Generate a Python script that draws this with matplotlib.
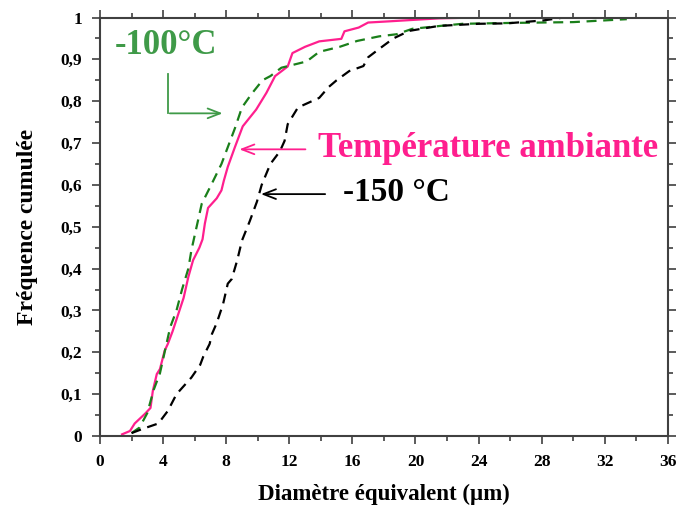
"""Cumulative distribution of equivalent diameter for three test temperatures."""

import matplotlib
matplotlib.use("Agg")
import matplotlib.pyplot as plt
from matplotlib.ticker import FuncFormatter, MultipleLocator

# --- data ------------------------------------------------------------------
amb_x = [1.4, 1.9, 2.2, 2.85, 3.2, 3.35, 3.6, 3.8, 4.1, 4.3, 4.6, 4.95, 5.3,
         5.6, 5.9, 6.3, 6.5, 6.65, 6.85, 7.4, 7.7, 7.85, 8.1, 8.55, 9.05,
         9.9, 10.55, 11.1, 11.9, 12.2, 13.0, 13.9, 15.3, 15.5, 16.4, 17.0,
         18.4, 21.5, 24.0]
amb_y = [0.004, 0.012, 0.03, 0.053, 0.067, 0.108, 0.148, 0.16, 0.204, 0.22,
         0.25, 0.29, 0.33, 0.38, 0.42, 0.45, 0.47, 0.508, 0.545, 0.568, 0.587,
         0.61, 0.643, 0.69, 0.74, 0.78, 0.82, 0.86, 0.883, 0.915, 0.93, 0.943,
         0.949, 0.967, 0.976, 0.988, 0.991, 0.998, 1.0]

m100_x = [2.0, 2.5, 3.0, 3.4, 3.8, 4.45, 4.85, 5.2, 5.6, 5.8, 6.45, 7.05, 7.7,
          8.1, 8.55, 9.0, 9.6, 10.3, 10.8, 11.5, 13.1, 13.9, 15.2, 16.3, 17.7,
          18.8, 19.8, 21.6, 23.0, 26.0, 30.0, 33.4]
m100_y = [0.007, 0.02, 0.055, 0.11, 0.15, 0.26, 0.3, 0.35, 0.4, 0.445, 0.555,
          0.6, 0.65, 0.69, 0.735, 0.785, 0.817, 0.85, 0.86, 0.88, 0.895, 0.918,
          0.93, 0.944, 0.955, 0.96, 0.973, 0.98, 0.985, 0.987, 0.989, 0.996]

m150_x = [2.0, 2.7, 3.7, 4.3, 4.85, 5.8, 6.35, 6.55, 6.95, 7.1, 7.4, 7.8, 8.1,
          8.35, 8.7, 9.0, 9.5, 9.95, 10.25, 10.8, 11.4, 11.7, 11.9, 12.55,
          13.9, 14.5, 15.0, 15.8, 16.7, 17.0, 17.7, 18.6, 19.6, 20.7, 21.5,
          24.0, 25.8, 28.1, 29.4]
m150_y = [0.007, 0.017, 0.03, 0.06, 0.1, 0.14, 0.17, 0.19, 0.22, 0.244, 0.27,
          0.315, 0.364, 0.375, 0.42, 0.467, 0.514, 0.56, 0.6, 0.65, 0.68,
          0.705, 0.745, 0.785, 0.808, 0.834, 0.85, 0.872, 0.884, 0.905, 0.925,
          0.95, 0.968, 0.975, 0.98, 0.985, 0.986, 0.993, 1.0]

PINK = "#ff1f8e"
GREEN_LINE = "#1a7f1a"
GREEN_TEXT = "#3f9a48"
AXIS = "#404040"

plt.rcParams["font.family"] = ["Liberation Serif", "DejaVu Serif"]
plt.rcParams["font.weight"] = "bold"

fig = plt.figure(figsize=(6.78, 5.09), dpi=100)
ax = fig.add_axes([0.1475, 0.1434, 0.8375, 0.8222])

ax.plot(amb_x, amb_y, color=PINK, lw=1.6)
ax.plot(m100_x, m100_y, color=GREEN_LINE, lw=1.6, ls=(0, (4.5, 3)))
ax.plot(m150_x, m150_y, color="black", lw=1.6, ls=(0, (4.5, 3)))

ax.set_xlim(0, 36)
ax.set_ylim(0, 1)
ax.xaxis.set_major_locator(MultipleLocator(4))
ax.xaxis.set_minor_locator(MultipleLocator(2))
ax.yaxis.set_major_locator(MultipleLocator(0.1))
ax.yaxis.set_minor_locator(MultipleLocator(0.05))
ax.yaxis.set_major_formatter(FuncFormatter(
    lambda v, _: "0" if abs(v) < 1e-9 else ("1" if abs(v - 1) < 1e-9 else f"{v:.1f}".replace(".", ","))))

for s in ax.spines.values():
    s.set_color(AXIS)
    s.set_linewidth(1.5)
ax.tick_params(which="both", direction="out", top=True, right=True,
               labeltop=False, labelright=False, color=AXIS, width=1.2,
               labelsize=12.5)
ax.tick_params(which="major", length=6, pad=7)
ax.tick_params(which="minor", length=3.6)

ax.set_xlabel("Diamètre équivalent (µm)", fontsize=16.5, fontweight="bold", labelpad=10)
ax.set_ylabel("Fréquence cumulée", fontsize=17, fontweight="bold", labelpad=16)

# --- annotations ------------------------------------------------------------
ax.text(0.95, 0.933, "-100°C", color=GREEN_TEXT, fontsize=25, fontweight="bold",
        ha="left", va="center")
ax.plot([4.31, 4.31], [0.866, 0.771], color=GREEN_TEXT, lw=1.3)
ax.annotate("", xy=(7.95, 0.771), xytext=(4.25, 0.771),
            arrowprops=dict(arrowstyle="->,head_length=0.9,head_width=0.35",
                            color=GREEN_TEXT, lw=1.3))

ax.text(13.8, 0.687, "Température ambiante", color=PINK, fontsize=25,
        fontweight="bold", ha="left", va="center")
ax.annotate("", xy=(8.66, 0.685), xytext=(13.2, 0.685),
            arrowprops=dict(arrowstyle="->,head_length=0.9,head_width=0.35",
                            color=PINK, lw=1.3))

ax.text(15.4, 0.582, "-150 °C", color="black", fontsize=24, fontweight="bold",
        ha="left", va="center")
ax.annotate("", xy=(10.03, 0.578), xytext=(14.45, 0.578),
            arrowprops=dict(arrowstyle="->,head_length=0.9,head_width=0.35",
                            color="black", lw=1.3))

fig.savefig("out.png", dpi=100)
